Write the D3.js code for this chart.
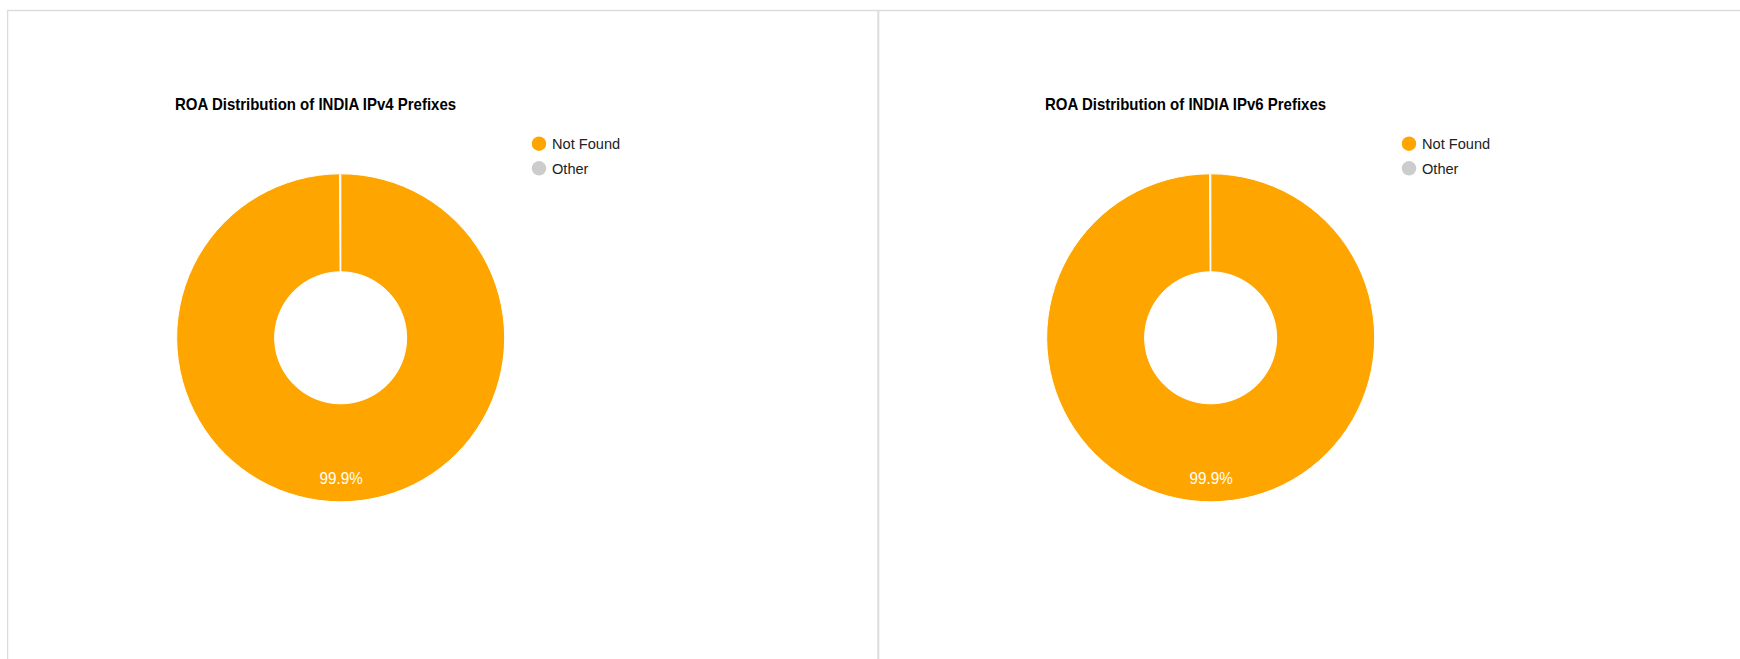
<!DOCTYPE html>
<html>
<head>
<meta charset="utf-8">
<script src="https://cdn.jsdelivr.net/npm/d3@7/dist/d3.min.js"></script>
<style>
  html, body { margin: 0; padding: 0; background: #fff; }
  svg { display: block; }
  text { font-family: "Liberation Sans", Arial, Helvetica, sans-serif; }
</style>
</head>
<body>
<svg id="chart" width="1740" height="659"></svg>
<script>
// ---- Data ----
const categories = ["Not Found", "Other"];
const colors = ["#FFA500", "#CCCCCC"];
const chartTitles = ["ROA Distribution of INDIA IPv4 Prefixes", "ROA Distribution of INDIA IPv6 Prefixes"];
const ipv4Values = [99.9, 0.1];
const ipv6Values = [99.9, 0.1];

// ---- Layout ----
const W = 1740, H = 659;
const panelW = 870;
const svg = d3.select("#chart");

const color = d3.scaleOrdinal().domain(categories).range(colors);
const pct = d3.format(".1%");

// borders
const border = svg.append("g").attr("stroke", "#dcdcdc").attr("fill", "none");
border.append("line").attr("x1", 7).attr("x2", W).attr("y1", 10.5).attr("y2", 10.5).attr("stroke-width", 1.5);
border.append("line").attr("x1", 7.6).attr("x2", 7.6).attr("y1", 10).attr("y2", H).attr("stroke-width", 1.3);
border.append("line").attr("x1", 878.3).attr("x2", 878.3).attr("y1", 10).attr("y2", H).attr("stroke-width", 2);

const outerR = 164, innerR = 66, labelR = 141;
const pie = d3.pie().sort(null).value(d => d.value);
const arc = d3.arc().innerRadius(innerR).outerRadius(outerR);
const labelArc = d3.arc().innerRadius(labelR).outerRadius(labelR);

function drawPanel(index, title, values) {
  const ox = index * panelW;
  const g = svg.append("g").attr("transform", `translate(${ox},0)`);
  const data = categories.map((c, i) => ({ name: c, value: values[i] }));
  const total = d3.sum(values);

  g.append("text")
    .attr("transform", "translate(175,110) scale(1,1.06)")
    .attr("font-size", 15).attr("font-weight", "bold").attr("fill", "#000")
    .text(title);

  const pg = g.append("g").attr("transform", "translate(340.7,337.8)");
  const arcs = pie(data);
  pg.selectAll("path").data(arcs).join("path")
    .attr("d", arc)
    .attr("fill", d => color(d.data.name))
    .attr("stroke", "#fff").attr("stroke-width", 1);

  pg.selectAll("text.lbl").data(arcs.filter(d => d.data.value / total > 0.05)).join("text")
    .attr("class", "lbl")
    .attr("transform", d => `translate(${labelArc.centroid(d)}) scale(1,1.06)`)
    .attr("text-anchor", "middle").attr("dy", "0.35em")
    .attr("font-size", 15.2).attr("fill", "#fff")
    .text(d => pct(d.data.value / total));

  const lg = g.append("g").attr("transform", "translate(539,143.7)");
  const item = lg.selectAll("g").data(categories).join("g")
    .attr("transform", (d, i) => `translate(0,${i * 24.6})`);
  item.append("circle").attr("r", 7.2).attr("fill", d => color(d));
  item.append("text").attr("x", 13).attr("dy", "0.36em")
    .attr("transform", "scale(1,1.06)")
    .attr("font-size", 14.6).attr("fill", "#222").text(d => d);
}

drawPanel(0, chartTitles[0], ipv4Values);
drawPanel(1, chartTitles[1], ipv6Values);
</script>
</body>
</html>
